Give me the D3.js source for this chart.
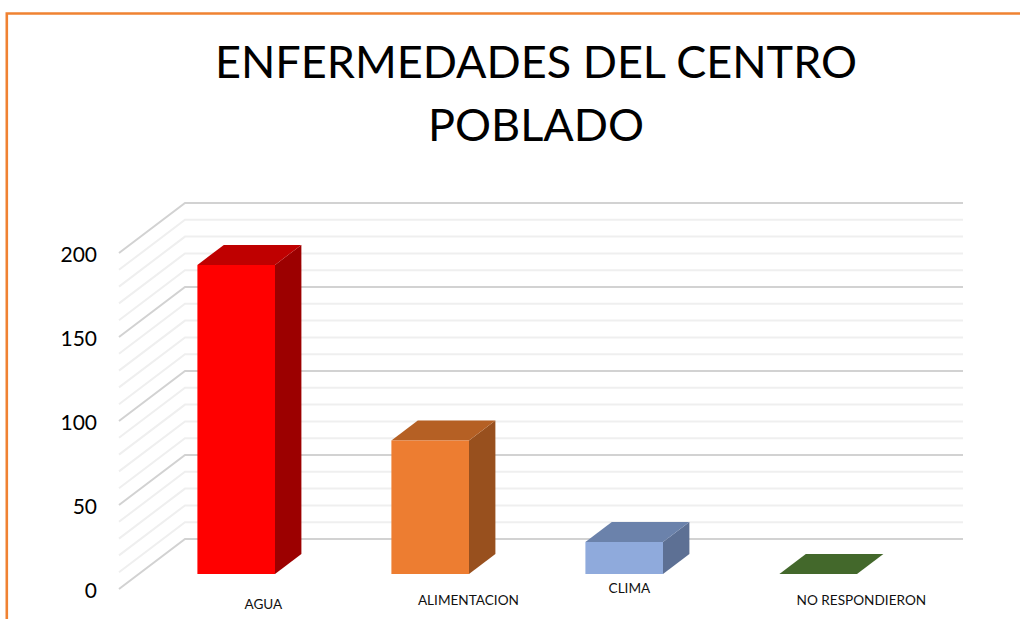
<!DOCTYPE html>
<html><head><meta charset="utf-8">
<script src="https://cdn.jsdelivr.net/npm/d3@7"></script>
<style>html,body{margin:0;padding:0;background:#fff}svg{display:block}text{font-family:Lato,"Open Sans",sans-serif}</style>
</head><body><svg id="c" width="1020" height="619"></svg>
<script>
const titleLines = ["ENFERMEDADES DEL CENTRO", "POBLADO"];
const categories = ["AGUA", "ALIMENTACION", "CLIMA", "NO RESPONDIERON"];
const values = [184, 79.5, 19, 0];
const yTicks = [0, 50, 100, 150, 200];
const gridValues = d3.range(0, 201, 10);
const frontColors = ["#FF0000", "#ED7D31", "#8FAADC", "#548235"];
const topColors = ["#BF0000", "#B56024", "#6B82AB", "#43682B"];
const sideColors = ["#9C0000", "#98501E", "#5D7094", "#37551F"];
const labelNudges = [[47, 604], [58, 600], [25, 588], [63, 600]];

const svg = d3.select("#c");
// floor geometry (oblique projection)
const floor = {x0: 119, x1: 897, yFront: 589, dx: 66, dy: -50};
const y = d3.scaleLinear().domain([0, 200]).range([589, 253]);
const x = d3.scaleBand().domain(categories).range([floor.x0 + 0.4, floor.x1 - 1.6]).paddingInner(0.6).paddingOuter(0.3);
const depth = {front: 15/50, back: 35/50};  // fractions of floor depth occupied by bars
const proj = (px, v, z) => [px + floor.dx * z, y(v) + floor.dy * z];
const poly = pts => pts.map(p => p.join(",")).join(" ");

// frame
svg.append("path").attr("d", "M6.8,619V13.5H1020").attr("fill", "none").attr("stroke", "#F08232").attr("stroke-width", 2.6);

// title
svg.append("g").selectAll("text").data(titleLines).join("text")
  .attr("x", 536).attr("y", (d, i) => 78 + i * 63).attr("text-anchor", "middle")
  .attr("font-size", 45).attr("font-weight", 400).attr("fill", "#000").text(d => d);

// grid
const grid = svg.append("g").attr("fill", "none");
grid.selectAll("polyline").data(gridValues).join("polyline")
  .attr("points", v => poly([proj(floor.x0, v, 0), proj(floor.x0, v, 1), proj(floor.x1, v, 1)]))
  .attr("stroke", v => v % 50 === 0 ? "#D2D2D2" : "#EFEFEF")
  .attr("stroke-width", 2);

// y axis labels
const axis = d3.axisLeft(y).tickValues(yTicks).tickSize(0).tickPadding(0);
const ag = svg.append("g").attr("transform", "translate(97,1)").call(axis);
ag.select(".domain").remove();
ag.selectAll("text").attr("font-size", 21).attr("fill", "#000").attr("font-family", "Lato").attr("dy", "0.36em");

// bars
const bars = svg.append("g").selectAll("g").data(categories).join("g");
bars.each(function(c, i) {
  const g = d3.select(this), v = values[i];
  const xl = x(c), xr = xl + x.bandwidth();
  const a = depth.front, b = depth.back;
  const F = (px, val) => proj(px, val, a), B = (px, val) => proj(px, val, b);
  g.append("polygon").attr("fill", sideColors[i]).attr("points", poly([F(xr, 0), B(xr, 0), B(xr, v), F(xr, v)]));
  g.append("polygon").attr("fill", topColors[i]).attr("points", poly([F(xl, v), B(xl, v), B(xr, v), F(xr, v)]));
  g.append("polygon").attr("fill", frontColors[i]).attr("points", poly([F(xl, 0), F(xr, 0), F(xr, v), F(xl, v)]));
});

// category labels
svg.append("g").selectAll("text").data(categories).join("text")
  .attr("x", (d, i) => x(d) + x.bandwidth() / 2 + labelNudges[i][0])
  .attr("y", (d, i) => labelNudges[i][1])
  .attr("dy", "0.36em").attr("text-anchor", "middle").attr("font-size", 13.6).attr("fill", "#111").text(d => d);
</script></body></html>
